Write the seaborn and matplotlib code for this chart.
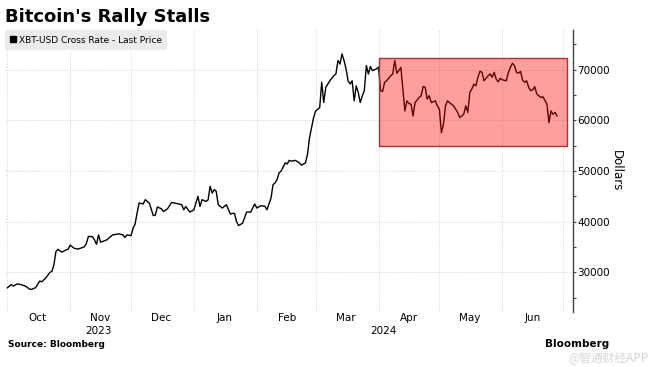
import matplotlib
matplotlib.use("Agg")
import matplotlib.pyplot as plt
import matplotlib.dates as mdates
import matplotlib.transforms as mtransforms
from matplotlib.patches import Rectangle
from matplotlib.lines import Line2D
import pandas as pd
import seaborn as sns

# XBT-USD
dates = [
    "2023-10-01", "2023-10-03", "2023-10-04", "2023-10-06", "2023-10-08", "2023-10-10",
    "2023-10-12", "2023-10-13", "2023-10-15", "2023-10-17", "2023-10-18", "2023-10-20",
    "2023-10-22", "2023-10-23", "2023-10-24", "2023-10-25", "2023-10-26", "2023-10-28",
    "2023-10-30", "2023-10-31", "2023-11-01", "2023-11-03", "2023-11-05", "2023-11-08",
    "2023-11-09", "2023-11-10", "2023-11-12", "2023-11-13", "2023-11-14", "2023-11-15",
    "2023-11-16", "2023-11-19", "2023-11-21", "2023-11-22", "2023-11-25", "2023-11-27",
    "2023-11-28", "2023-11-29", "2023-12-01", "2023-12-02", "2023-12-03", "2023-12-04",
    "2023-12-05", "2023-12-07", "2023-12-08", "2023-12-10", "2023-12-12", "2023-12-13",
    "2023-12-14", "2023-12-16", "2023-12-17", "2023-12-19", "2023-12-21", "2023-12-24",
    "2023-12-26", "2023-12-27", "2023-12-28", "2023-12-30", "2024-01-01", "2024-01-03",
    "2024-01-04", "2024-01-05", "2024-01-07", "2024-01-08", "2024-01-09", "2024-01-10",
    "2024-01-11", "2024-01-12", "2024-01-13", "2024-01-15", "2024-01-17", "2024-01-19",
    "2024-01-20", "2024-01-21", "2024-01-22", "2024-01-23", "2024-01-25", "2024-01-27",
    "2024-01-29", "2024-01-31", "2024-02-01", "2024-02-03", "2024-02-05", "2024-02-06",
    "2024-02-08", "2024-02-09", "2024-02-10", "2024-02-11", "2024-02-12", "2024-02-13",
    "2024-02-15", "2024-02-16", "2024-02-17", "2024-02-18", "2024-02-20", "2024-02-22",
    "2024-02-23", "2024-02-25", "2024-02-26", "2024-02-27", "2024-02-29", "2024-03-01",
    "2024-03-03", "2024-03-04", "2024-03-05", "2024-03-06", "2024-03-08", "2024-03-10",
    "2024-03-11", "2024-03-12", "2024-03-13", "2024-03-14", "2024-03-15", "2024-03-16",
    "2024-03-17", "2024-03-18", "2024-03-19", "2024-03-20", "2024-03-21", "2024-03-22",
    "2024-03-23", "2024-03-24", "2024-03-25", "2024-03-26", "2024-03-27", "2024-03-28",
    "2024-03-29", "2024-03-31", "2024-04-01", "2024-04-02", "2024-04-03", "2024-04-04",
    "2024-04-05", "2024-04-07", "2024-04-08", "2024-04-09", "2024-04-10", "2024-04-11",
    "2024-04-12", "2024-04-14", "2024-04-15", "2024-04-16", "2024-04-17", "2024-04-18",
    "2024-04-19", "2024-04-21", "2024-04-22", "2024-04-23", "2024-04-24", "2024-04-25",
    "2024-04-26", "2024-04-27", "2024-04-29", "2024-04-30", "2024-05-01", "2024-05-02",
    "2024-05-03", "2024-05-04", "2024-05-05", "2024-05-06", "2024-05-08", "2024-05-09",
    "2024-05-10", "2024-05-11", "2024-05-12", "2024-05-13", "2024-05-14", "2024-05-15",
    "2024-05-16", "2024-05-17", "2024-05-18", "2024-05-19", "2024-05-20", "2024-05-21",
    "2024-05-22", "2024-05-23", "2024-05-25", "2024-05-26", "2024-05-27", "2024-05-28",
    "2024-05-29", "2024-05-30", "2024-05-31", "2024-06-01", "2024-06-03", "2024-06-04",
    "2024-06-05", "2024-06-06", "2024-06-07", "2024-06-08", "2024-06-09", "2024-06-10",
    "2024-06-11", "2024-06-12", "2024-06-13", "2024-06-14", "2024-06-15", "2024-06-16",
    "2024-06-17", "2024-06-18", "2024-06-20", "2024-06-21", "2024-06-22", "2024-06-23",
    "2024-06-24", "2024-06-25", "2024-06-26", "2024-06-27", "2024-06-28",
]
prices = [
    26950, 27600, 27300, 27750, 27550, 27300,
    26700, 26650, 27000, 28300, 28150, 28900,
    30000, 30200, 31500, 34100, 34550, 34000,
    34450, 34550, 35400, 34750, 34600, 35050,
    35700, 37100, 37050, 36400, 35550, 37400,
    35950, 36400, 37100, 37400, 37600, 37400,
    36900, 37400, 37250, 38700, 39500, 41700,
    43700, 43500, 44350, 43700, 41200, 41300,
    42900, 42550, 42000, 42550, 43800, 43550,
    43350, 42350, 43000, 41900, 42350, 45000,
    43000, 44350, 44000, 44300, 47000, 45650,
    46350, 46000, 43350, 42700, 43350, 41500,
    41650, 41650, 40050, 39250, 39700, 41900,
    41900, 43500, 42700, 43150, 43050, 42350,
    44650, 47300, 47650, 48300, 49650, 50000,
    51600, 51400, 52100, 51950, 52100, 51600,
    51150, 51600, 53300, 56600, 60550, 61850,
    62500, 67500, 63500, 66500, 67800, 68800,
    69150, 71800, 71100, 73100, 71800, 70150,
    67800, 67150, 67800, 63850, 66800, 65500,
    63500, 64850, 65850, 70800, 69150, 70600,
    69800, 70150, 70500, 65850, 65700, 67500,
    67800, 68800, 69150, 71800, 69300, 69800,
    70450, 61850, 63850, 63300, 63200, 60850,
    63500, 64500, 64850, 66650, 66500, 64200,
    64850, 63500, 63850, 62850, 62200, 57550,
    59250, 62850, 63850, 63500, 62850, 62200,
    61550, 60550, 60850, 61200, 62850, 61550,
    65500, 66200, 67150, 66800, 68500, 69700,
    69450, 67800, 68800, 69150, 68500, 69450,
    68150, 67600, 68300, 68000, 67800, 69450,
    70450, 71250, 70800, 69450, 69300, 69650,
    67950, 67500, 67800, 66500, 65850, 66000,
    66650, 65200, 64500, 64650, 63950, 63200,
    59550, 61850, 61200, 61550, 60850,
]

# highlighted range
box_start, box_end = "2024-04-01", "2024-07-03"
box_low, box_high = 55000, 72200

y_ticks = [30000, 40000, 50000, 60000, 70000]
y_minor = [25000, 35000, 45000, 55000, 65000, 75000]
x_range = ("2023-09-30", "2024-07-06")

title = "Bitcoin's Rally Stalls"
series_name = "XBT-USD Cross Rate - Last Price"

sns.set_style("white")
plt.rcParams["font.family"] = ["DejaVu Sans", "Noto Sans CJK SC"]
plt.rcParams["text.color"] = "black"
plt.rcParams["axes.labelcolor"] = "black"
plt.rcParams["xtick.color"] = "black"
plt.rcParams["ytick.color"] = "black"

df = pd.DataFrame({"date": pd.to_datetime(dates), "price": prices})

fig = plt.figure(figsize=(6.5, 3.67), dpi=100)
ax = fig.add_axes([0.008, 0.15, 0.874, 0.768])

sns.lineplot(data=df, x="date", y="price", color="black", lw=1.0, ax=ax)

# red box over the last quarter
x0 = mdates.date2num(pd.Timestamp(box_start))
x1 = mdates.date2num(pd.Timestamp(box_end))
ax.add_patch(Rectangle((x0, box_low), x1 - x0, box_high - box_low,
                       facecolor=(1, 0, 0, 0.38), edgecolor="#b03030", lw=1.0, zorder=5))

ax.set_xlim(pd.Timestamp(x_range[0]), pd.Timestamp(x_range[1]))
ax.set_ylim(22200, 77800)

# y axis on the right
ax.yaxis.tick_right()
ax.yaxis.set_label_position("right")
ax.set_yticks(y_ticks)
ax.set_yticks(y_minor, minor=True)
ax.set_yticklabels([str(v) for v in y_ticks])
ax.tick_params(axis="y", which="both", direction="out", length=2.5, width=0.8,
               colors="#444444", labelsize=7.5, labelcolor="black", pad=0.5)
ax.set_ylabel("Dollars", rotation=270, labelpad=9, fontsize=8.5)

# months: gridlines at month start, labels mid-month
ax.xaxis.set_major_locator(mdates.MonthLocator())
ax.xaxis.set_major_formatter(plt.NullFormatter())
ax.xaxis.set_minor_locator(mdates.MonthLocator(bymonthday=16))
ax.xaxis.set_minor_formatter(mdates.DateFormatter("%b"))
ax.tick_params(axis="x", which="both", length=0, labelsize=7.5, pad=1)
ax.set_xlabel("")

ax.grid(True, which="major", axis="both", color="#cfcfcf", lw=0.7, ls=":")

for side in ["top", "left", "bottom"]:
    ax.spines[side].set_visible(False)
ax.spines["right"].set_color("#444444")
ax.spines["right"].set_linewidth(1.0)

# year labels centred under the visible part of each year
trans = mtransforms.blended_transform_factory(ax.transData, ax.transAxes)
lo, hi = pd.Timestamp(x_range[0]), pd.Timestamp(x_range[1])
for yr in [2023, 2024]:
    a = max(lo, pd.Timestamp(f"{yr}-01-01"))
    b = min(hi, pd.Timestamp(f"{yr}-12-31"))
    mid = a + (b - a) / 2
    ax.text(mdates.date2num(mid), -0.05, str(yr), transform=trans,
            ha="center", va="top", fontsize=7.5)

handle = Line2D([], [], marker="s", color="black", ls="none", markersize=4.5)
leg = ax.legend([handle], [series_name], loc="upper left", bbox_to_anchor=(0, 1),
                borderaxespad=0, fontsize=6.5, frameon=True, fancybox=False,
                handlelength=0.6, handletextpad=0.3, borderpad=0.6)
leg.get_frame().set_facecolor("#ebebeb")
leg.get_frame().set_edgecolor("none")
leg.get_frame().set_alpha(1)

fig.text(0.008, 0.954, title, fontsize=13, fontweight="bold", ha="left", va="center")
fig.text(0.012, 0.06, "Source: Bloomberg", fontsize=6.5, fontweight="bold",
         ha="left", va="center")
fig.text(0.838, 0.062, "Bloomberg", fontsize=7.5, fontweight="bold",
         ha="left", va="center")
fig.text(0.998, 0.025, "@智通财经APP", fontsize=8.5, color="#cccccc", alpha=0.8,
         ha="right", va="center", family=["Noto Sans CJK SC", "DejaVu Sans"])

fig.savefig("out.png", dpi=100)
